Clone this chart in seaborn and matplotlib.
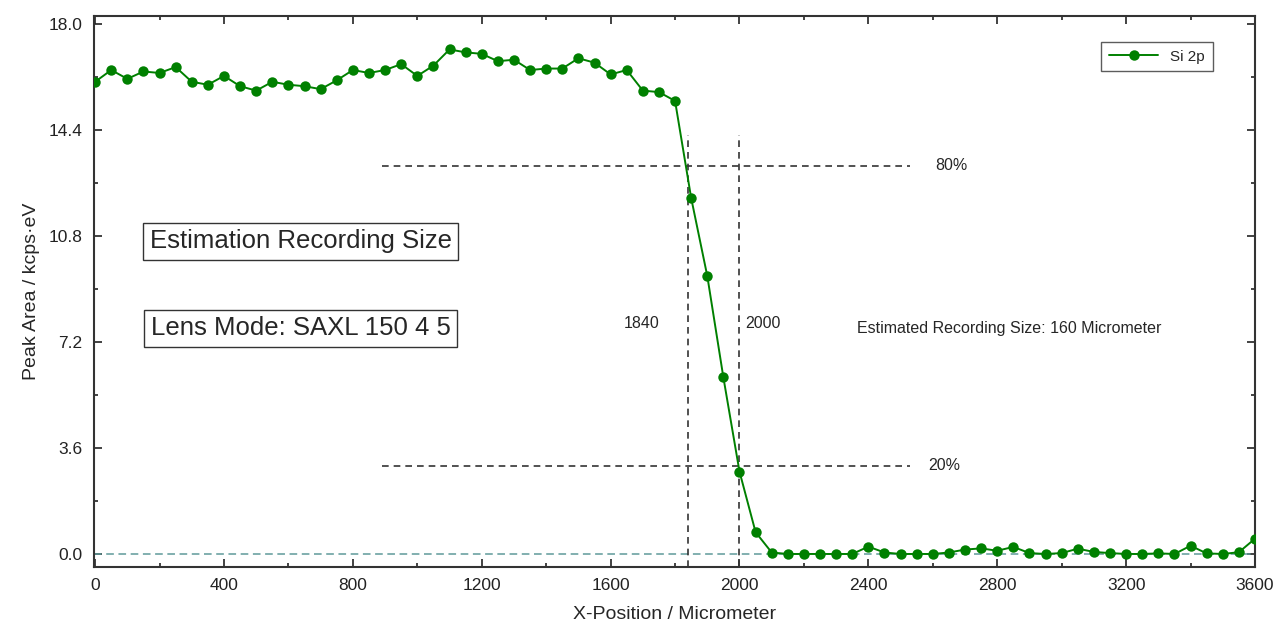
import numpy as np
import pandas as pd
import seaborn as sns
import matplotlib.pyplot as plt
from matplotlib.ticker import MultipleLocator

# Dati (posizione in micrometri, area del picco in kcps*eV)
x_pos = [0, 50, 100, 150, 200, 250, 300, 350, 400, 450, 500, 550, 600, 650, 700, 750,
         800, 850, 900, 950, 1000, 1050, 1100, 1150, 1200, 1250, 1300, 1350, 1400, 1450,
         1500, 1550, 1600, 1650, 1700, 1750, 1800, 1850, 1900, 1950, 2000, 2050, 2100,
         2150, 2200, 2250, 2300, 2350, 2400, 2450, 2500, 2550, 2600, 2650, 2700, 2750,
         2800, 2850, 2900, 2950, 3000, 3050, 3100, 3150, 3200, 3250, 3300, 3350, 3400,
         3450, 3500, 3550, 3600]
peak_area = [16.05, 16.45, 16.15, 16.40, 16.35, 16.55, 16.05, 15.95, 16.25, 15.90,
             15.75, 16.05, 15.95, 15.90, 15.80, 16.10, 16.45, 16.35, 16.45, 16.65,
             16.25, 16.60, 17.15, 17.05, 17.00, 16.75, 16.80, 16.45, 16.50, 16.50,
             16.85, 16.70, 16.30, 16.45, 15.75, 15.70, 15.40, 12.10, 9.45, 6.00,
             2.80, 0.74, 0.05, 0.00, 0.00, 0.00, 0.00, 0.00, 0.25, 0.05,
             0.00, 0.00, 0.00, 0.05, 0.15, 0.19, 0.11, 0.24, 0.03, 0.00,
             0.03, 0.18, 0.07, 0.03, 0.00, 0.00, 0.02, 0.00, 0.28, 0.02,
             0.00, 0.06, 0.52]
series_name = "Si 2p"

# Soglie 80% / 20% e posizioni stimate
level_80 = 13.2
level_20 = 3.0
pos_80 = 1840
pos_20 = 2000

df = pd.DataFrame({"X": x_pos, "Area": peak_area, "Serie": series_name})

sns.set_theme(style="ticks")
plt.rcParams['font.family'] = ['Liberation Sans', 'DejaVu Sans']

fig = plt.figure(figsize=(12.81, 6.24), dpi=100)
ax = fig.add_axes([0.073, 0.091, 0.9067, 0.884])

# linea dello zero
ax.axhline(0, color="#5f9a9a", lw=1.1, ls=(0, (5, 3)), zorder=1)

# linee tratteggiate delle soglie
ax.hlines([level_80, level_20], 890, 2530, colors="#333333", lw=1.2, ls=(0, (4, 3)), zorder=2)
ax.vlines([pos_80, pos_20], -0.45, 14.25, colors="#333333", lw=1.2, ls=(0, (4, 3)), zorder=2)

sns.lineplot(data=df, x="X", y="Area", hue="Serie", palette={series_name: "#008000"},
             marker="o", markersize=7.5, markeredgewidth=0, linewidth=1.4, ax=ax, zorder=3)

# testi
ax.text(2607, level_80, "80%", fontsize=11.5, va="center", ha="left")
ax.text(2585, level_20, "20%", fontsize=11.5, va="center", ha="left")
ax.text(1753, 7.84, "1840", fontsize=11.5, va="center", ha="right")
ax.text(2017, 7.84, "2000", fontsize=11.5, va="center", ha="left")
ax.text(2365, 7.67, "Estimated Recording Size: 160 Micrometer", fontsize=11.5, va="center", ha="left")

box = dict(boxstyle="square,pad=0.25", fc="white", ec="#333333", lw=1.0)
ax.text(638, 10.63, "Estimation Recording Size", fontsize=18.5, va="center", ha="center", bbox=box)
ax.text(638, 7.67, "Lens Mode: SAXL 150 4 5", fontsize=18.5, va="center", ha="center", bbox=box)

ax.set_xlim(-5, 3600)
ax.set_ylim(-0.45, 18.3)
ax.xaxis.set_major_locator(MultipleLocator(400))
ax.xaxis.set_minor_locator(MultipleLocator(200))
ax.yaxis.set_major_locator(MultipleLocator(3.6))
ax.yaxis.set_minor_locator(MultipleLocator(1.8))
ax.yaxis.set_major_formatter(plt.FuncFormatter(lambda v, p: f"{v:.1f}"))
ax.tick_params(which="both", direction="in", top=True, right=True, colors="#222222",
               labelsize=12.5, width=1.2)
ax.tick_params(which="major", length=6, pad=8)
ax.tick_params(which="minor", length=3)
for s in ax.spines.values():
    s.set_linewidth(1.5)
    s.set_color("#333333")

ax.set_xlabel("X-Position / Micrometer", fontsize=14, labelpad=9)
ax.set_ylabel("Peak Area / kcps·eV", fontsize=14, labelpad=6)

leg = ax.legend(loc="upper right", bbox_to_anchor=(0.97, 0.966), fontsize=11,
                frameon=True, fancybox=False, edgecolor="#333333", title=None,
                handlelength=3.2, borderpad=0.5)
leg.get_frame().set_linewidth(1.0)

plt.savefig("out.png", dpi=100)
